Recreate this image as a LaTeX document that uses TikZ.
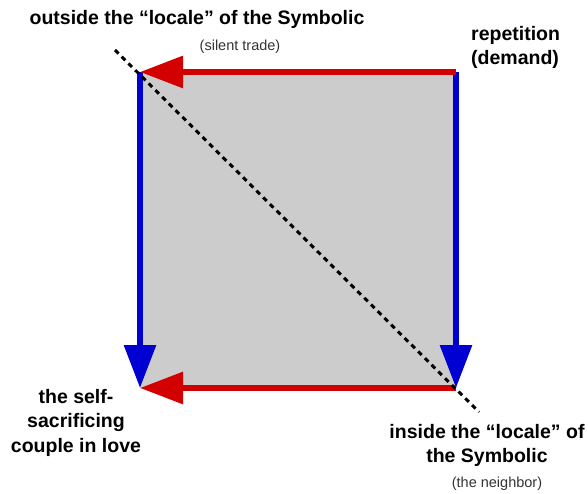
\documentclass[tikz,border=0pt]{standalone}
\usepackage{fontspec}
\setmainfont{Liberation Sans}
\usepackage{tikz}
\usetikzlibrary{arrows.meta,positioning}
\definecolor{sqgray}{HTML}{CCCCCC}
\definecolor{loopred}{HTML}{D20000}
\definecolor{loopblue}{HTML}{0000D2}

\begin{document}
\begin{tikzpicture}[x=1pt,y=-1pt,
  head/.style={font=\fontsize{19.5}{24.5}\selectfont\bfseries,inner sep=0pt,align=center},
  aside/.style={font=\fontsize{14.5}{17}\selectfont,inner sep=0pt,text=black!80},
  flow/.style={line width=6pt,-{Triangle[length=43pt,width=31pt]}}]
  \useasboundingbox (0,0) rectangle (588,494);
  % corners of the square
  \coordinate (tl) at (140,72);  \coordinate (tr) at (456,72);
  \coordinate (bl) at (140,388); \coordinate (br) at (456,388);
  \fill[sqgray] (tl) rectangle (br);
  \draw[flow,loopblue] (tl) -- (bl);
  \draw[flow,loopblue] (tr) -- (br);
  \draw[flow,loopred]  (tr) -- (tl);
  \draw[flow,loopred]  (br) -- (bl);
  % diagonal
  \coordinate (dtop) at (115,50); \coordinate (dbot) at (479,412);
  \draw[line width=3pt,dash pattern=on 5pt off 4.5pt] (dtop) -- (dbot);
  % labels
  \node[head,anchor=base] (outside) at (197,25) {outside the “locale” of the Symbolic};
  \node[aside,anchor=base] (trade) at (240,51) {(silent trade)};
  \node[head,anchor=north west,align=left] (repet) at (471,26) {repetition\\(demand)};
  \node[head,anchor=north] (couple) at (76,389) {the self-\\sacrificing\\couple in love};
  \node[head,anchor=north] (inside) at (487,424) {inside the “locale” of\\the Symbolic};
  \node[aside,anchor=base] (neighbor) at (497,487) {(the neighbor)};
\end{tikzpicture}
\end{document}
